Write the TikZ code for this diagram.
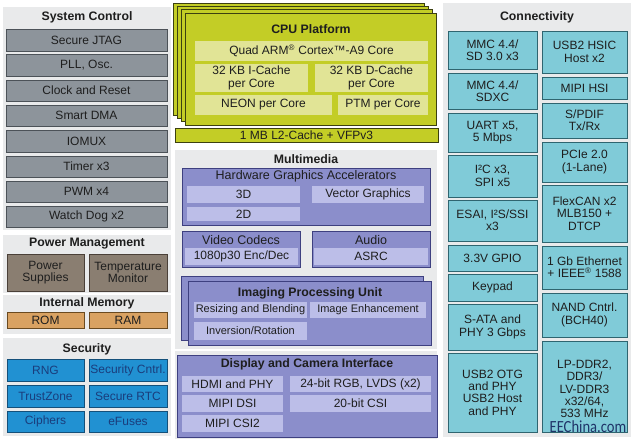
\documentclass[tikz,border=0pt]{standalone}
\usepackage{fontspec}
\usepackage{graphicx}
\setmainfont{Liberation Sans}
\newfontfamily\wmfont{Carlito}
\definecolor{panelbg}{HTML}{E9EAEB}
\definecolor{txt}{HTML}{1E1E1E}
\definecolor{sysg}{HTML}{8D949B}
\definecolor{sysd}{HTML}{4C5258}
\definecolor{powg}{HTML}{8A7E71}
\definecolor{powd}{HTML}{4A4038}
\definecolor{memg}{HTML}{D9A262}
\definecolor{memd}{HTML}{6A4A20}
\definecolor{secg}{HTML}{2191D2}
\definecolor{secd}{HTML}{14507A}
\definecolor{sect}{HTML}{1A3D7C}
\definecolor{cpug}{HTML}{C3CD26}
\definecolor{cpud}{HTML}{3C4010}
\definecolor{cpul}{HTML}{E1E496}
\definecolor{mmg}{HTML}{8B8ECB}
\definecolor{mmd}{HTML}{3E4080}
\definecolor{mml}{HTML}{BCBEE8}
\definecolor{cong}{HTML}{80CBD8}
\definecolor{cond}{HTML}{2F6570}
\definecolor{wm}{HTML}{1F3468}
\tikzset{
  every node/.style={inner sep=0pt, outer sep=0pt, align=center, text=txt,
    font=\fontsize{12}{12.3}\selectfont},
  panel/.style={fill=panelbg, draw=none},
  ttl/.style={font=\fontsize{12.3}{13}\selectfont\bfseries},
  sub/.style={font=\fontsize{12.5}{13}\selectfont},
  small/.style={font=\fontsize{11}{12}\selectfont},
  sysbox/.style={fill=sysg, draw=sysd, line width=0.8pt},
  powbox/.style={fill=powg, draw=powd, line width=0.8pt},
  membox/.style={fill=memg, draw=memd, line width=0.8pt},
  secbox/.style={fill=secg, draw=secd, line width=0.8pt, text=sect},
  cpubox/.style={fill=cpug, draw=cpud, line width=0.8pt},
  cpuin/.style={fill=cpul, draw=none},
  mmbox/.style={fill=mmg, draw=mmd, line width=0.8pt},
  mmin/.style={fill=mml, draw=none},
  conbox/.style={fill=cong, draw=cond, line width=0.8pt},
}
\newcommand\mybox[7]{%
  \pgfmathsetmacro\mbw{#5-#3}%
  \pgfmathsetmacro\mbh{#6-#4}%
  \pgfmathsetmacro\mbx{(#3+#5)/2}%
  \pgfmathsetmacro\mby{(#4+#6)/2}%
  \node[#2, minimum width=\mbw pt, minimum height=\mbh pt] (#1) at (\mbx,\mby) {#7};}
\begin{document}
\begin{tikzpicture}[x=1pt,y=-1pt]
\useasboundingbox[fill=white] (0,0) rectangle (634,440);
% ---------------- System Control
\mybox{pSys}{panel}{3}{7}{171}{230}{}
\node[ttl] (tSys) at (87,17) {System Control};
\mybox{jtag}{sysbox}{6}{29}{167}{51}{Secure JTAG}
\mybox{pll}{sysbox}{6}{54}{167}{76}{PLL, Osc.}
\mybox{clk}{sysbox}{6}{80}{167}{101}{Clock and Reset}
\mybox{dma}{sysbox}{6}{105}{167}{126}{Smart DMA}
\mybox{iomux}{sysbox}{6}{130}{167}{152}{IOMUX}
\mybox{timer}{sysbox}{6}{156}{167}{177}{Timer x3}
\mybox{pwm}{sysbox}{6}{181}{167}{202}{PWM x4}
\mybox{wdog}{sysbox}{6}{206}{167}{227}{Watch Dog x2}
% ---------------- Power
\mybox{pPow}{panel}{3}{235}{171}{293}{}
\node[ttl] (tPow) at (87,244) {Power Management};
\mybox{psup}{powbox}{7}{254}{84}{291}{Power\\Supplies}
\mybox{tmon}{powbox}{89}{254}{167}{291}{Temperature\\Monitor}
% ---------------- Memory
\mybox{pMem}{panel}{3}{295}{171}{334}{}
\node[ttl] (tMem) at (87,303) {Internal Memory};
\mybox{rom}{membox}{7}{312}{84}{328}{ROM}
\mybox{ram}{membox}{89}{312}{167}{328}{RAM}
% ---------------- Security
\mybox{pSec}{panel}{3}{338}{171}{436}{}
\node[ttl] (tSec) at (87,349) {Security};
\mybox{rng}{secbox}{7}{359}{84}{381}{RNG}
\mybox{scn}{secbox}{89}{359}{167}{381}{Security Cntrl.}
\mybox{tz}{secbox}{7}{385}{84}{407}{TrustZone}
\mybox{rtc}{secbox}{89}{385}{167}{407}{Secure RTC}
\mybox{ciph}{secbox}{7}{411}{84}{432}{Ciphers}
\mybox{efuse}{secbox}{89}{411}{167}{432}{eFuses}
% ---------------- CPU Platform
\mybox{cpuL3}{cpubox}{173}{3}{424}{115}{}
\mybox{cpuL2}{cpubox}{177}{6}{428}{118}{}
\mybox{cpuL1}{cpubox}{181}{9}{432}{121}{}
\mybox{cpu}{cpubox}{185}{13}{436}{125}{}
\node[ttl] (tCpu) at (311,29) {CPU Platform};
\mybox{arm}{cpuin}{195}{41}{428}{61}{Quad ARM\textsuperscript{®} Cortex™-A9 Core}
\mybox{icache}{cpuin}{195}{64}{308}{92}{32 KB I-Cache\\per Core}
\mybox{dcache}{cpuin}{315}{64}{428}{92}{32 KB D-Cache\\per Core}
\mybox{neon}{cpuin}{195}{95}{332}{115}{NEON per Core}
\mybox{ptm}{cpuin}{338}{95}{428}{115}{PTM per Core}
\mybox{l2}{cpubox}{175}{128}{438}{142}{1 MB L2-Cache + VFPv3}
% ---------------- Multimedia
\mybox{pMM}{panel}{175}{150}{437}{349}{}
\node[ttl] (tMM) at (306,159) {Multimedia};
\mybox{hga}{mmbox}{182}{168}{430}{225}{}
\node[sub] (tHga) at (306,176) {Hardware Graphics Accelerators};
\mybox{g3d}{mmin}{187}{186}{300}{203}{3D}
\mybox{vg}{mmin}{312}{186}{424}{203}{Vector Graphics}
\mybox{g2d}{mmin}{187}{207}{300}{221}{2D}
\mybox{vid}{mmbox}{182}{231}{300}{267}{}
\node[sub] (tVid) at (241,240) {Video Codecs};
\mybox{enc}{mmin}{185}{248}{298}{265}{1080p30 Enc/Dec}
\mybox{aud}{mmbox}{312}{231}{430}{267}{}
\node[sub] (tAud) at (371,240) {Audio};
\mybox{asrc}{mmin}{314}{248}{428}{265}{ASRC}
\mybox{ipuB}{mmbox}{181}{276}{423}{340}{}
\mybox{ipu}{mmbox}{188}{281}{431}{345}{}
\node[ttl] (tIpu) at (310,293) {Imaging Processing Unit};
\mybox{resz}{mmin,small}{194}{302}{307}{318}{Resizing and Blending}
\mybox{enh}{mmin,small}{310}{302}{426}{318}{Image Enhancement}
\mybox{inv}{mmin,small}{194}{322}{307}{340}{Inversion/Rotation}
% ---------------- Display and Camera
\mybox{pDisp}{panel}{175}{351}{437}{439}{}
\mybox{disp}{mmbox}{177}{355}{437}{437}{}
\node[ttl] (tDisp) at (307,364) {Display and Camera Interface};
\mybox{hdmi}{mmin}{182}{376}{283}{392}{HDMI and PHY}
\mybox{rgb}{mmin}{290}{376}{431}{392}{24-bit RGB, LVDS (x2)}
\mybox{dsi}{mmin}{182}{395}{283}{412}{MIPI DSI}
\mybox{csi}{mmin}{290}{395}{431}{412}{20-bit CSI}
\mybox{csi2}{mmin}{182}{415}{283}{432}{MIPI CSI2}
% ---------------- Connectivity
\mybox{pCon}{panel}{443}{3}{631}{437}{}
\node[ttl] (tCon) at (537,17) {Connectivity};
\mybox{mmc1}{conbox}{448}{31}{537}{69}{MMC 4.4/\\SD 3.0 x3}
\mybox{mmc2}{conbox}{448}{73}{537}{109}{MMC 4.4/\\SDXC}
\mybox{uart}{conbox}{448}{113}{537}{152}{UART x5,\\5 Mbps}
\mybox{i2c}{conbox}{448}{155}{537}{197}{I²C x3,\\SPI x5}
\mybox{esai}{conbox}{448}{200}{537}{241}{ESAI, I²S/SSI\\x3}
\mybox{gpio}{conbox}{448}{245}{537}{271}{3.3V GPIO}
\mybox{kpd}{conbox}{448}{274}{537}{301}{Keypad}
\mybox{sata}{conbox}{448}{304}{537}{350}{S-ATA and\\PHY 3 Gbps}
\mybox{usbotg}{conbox}{448}{353}{537}{432}{USB2 OTG\\and PHY\\USB2 Host\\and PHY}
\mybox{hsic}{conbox}{542}{31}{627}{73}{USB2 HSIC\\Host x2}
\mybox{hsi}{conbox}{542}{77}{627}{99}{MIPI HSI}
\mybox{spdif}{conbox}{542}{103}{627}{138}{S/PDIF\\Tx/Rx}
\mybox{pcie}{conbox}{542}{142}{627}{182}{PCIe 2.0\\(1-Lane)}
\mybox{can}{conbox}{542}{185}{627}{242}{FlexCAN x2\\MLB150 +\\DTCP}
\mybox{eth}{conbox}{542}{246}{627}{289}{1 Gb Ethernet\\+ IEEE\textsuperscript{®} 1588}
\mybox{nand}{conbox}{542}{293}{627}{337}{NAND Cntrl.\\(BCH40)}
\mybox{ddr}{conbox}{542}{341}{627}{432}{}
\node (tDdr) at (584.5,389) {LP-DDR2,\\DDR3/\\LV-DDR3\\x32/64,\\533 MHz};
\node[text=wm, font=\wmfont\fontsize{17}{17}\selectfont] (wmark) at (588,427) {\scalebox{0.86}[1]{EEChina.com}};
\end{tikzpicture}
\end{document}
